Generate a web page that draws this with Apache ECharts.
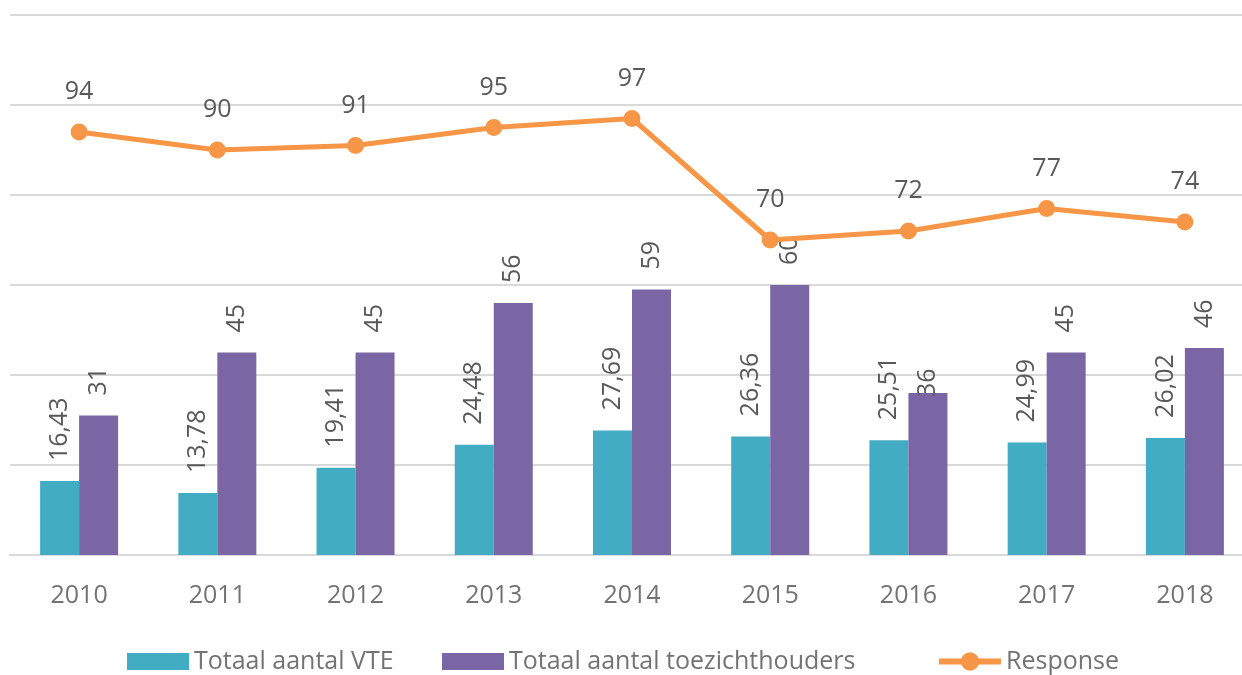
<!DOCTYPE html>
<html>
	<head>
		<meta charset="utf-8" />
		<title></title>
		<script src="https://cdn.jsdelivr.net/npm/echarts@6/dist/echarts.min.js"></script>
		<style>
			html, body { margin: 0; padding: 0; background: #fff; }
			#main { width: 1242px; height: 675px; }
		</style>
	</head>
	<body>
	<div id="main"></div>

<script type="text/javascript">
/* data */
var years = ['2010', '2011', '2012', '2013', '2014', '2015', '2016', '2017', '2018'];
var vte = [16.43, 13.78, 19.41, 24.48, 27.69, 26.36, 25.51, 24.99, 26.02];
var toezicht = [31, 45, 45, 56, 59, 60, 36, 45, 46];
var response = [94, 90, 91, 95, 97, 70, 72, 77, 74];
var seriesNames = ['Totaal aantal VTE', 'Totaal aantal toezichthouders', 'Response'];

var fontName = 'Open Sans';

/* comma as decimal sign */
function nl(p){
	return String(p.value).replace('.', ',');
}

var barLabel = {
	show: true,
	position: 'top',
	rotate: 90,
	align: 'left',
	verticalAlign: 'middle',
	distance: 20,
	fontFamily: fontName,
	fontSize: 25,
	color: '#595959',
	formatter: nl
};

/* label of 2016 sits a bit lower in the original */
var toezichtData = toezicht.map(function(v, i){
	if (years[i] === '2016') {
		return { value: v, label: { distance: -4 } };
	}
	return v;
});

/* one legend per item, so the spacing follows the original */
function legendItem(item, left, h){
	return {
		top: 649,
		left: left,
		padding: 0,
		itemWidth: 62,
		itemHeight: h,
		textStyle: { fontFamily: fontName, fontSize: 25, color: '#737373' },
		data: [item]
	};
}

var chart = echarts.init(document.getElementById('main'));
var option = {
	animation: false,
	textStyle: { fontFamily: fontName },
	grid: {
		left: 10,
		right: -12,
		top: 15,
		height: 540,
		containLabel: false,
		outerBoundsMode: 'none'
	},
	legend: [
		legendItem({ name: seriesNames[0], icon: 'rect' }, 127, 17),
		legendItem({ name: seriesNames[1], icon: 'rect' }, 442, 17),
		legendItem({ name: seriesNames[2], lineStyle: { width: 6 } }, 936, 23) /* bigger marker */
	],
	xAxis: {
		type: 'category',
		data: years,
		axisTick: { show: false },
		axisLine: { show: true, lineStyle: { color: '#d9d9d9', width: 2 } },
		axisLabel: { margin: 28, fontFamily: fontName, fontSize: 25, color: '#737373' }
	},
	yAxis: {
		type: 'value',
		min: 0,
		max: 120,
		interval: 20,
		axisLabel: { show: false },
		axisLine: { show: false },
		axisTick: { show: false },
		splitLine: { lineStyle: { color: '#d9d9d9', width: 2 } }
	},
	series: [
		{
			name: seriesNames[0],
			type: 'bar',
			barWidth: 39,
			barGap: '0%',
			itemStyle: { color: '#42acc2' },
			label: barLabel,
			data: vte
		},
		{
			name: seriesNames[1],
			type: 'bar',
			barWidth: 39,
			barGap: '0%',
			itemStyle: { color: '#7b66a5' },
			label: barLabel,
			data: toezichtData
		},
		{
			name: seriesNames[2],
			type: 'line',
			symbol: 'circle',
			symbolSize: 17,
			z: 5,
			lineStyle: { color: '#f79646', width: 5 },
			itemStyle: { color: '#f79646' },
			label: {
				show: true,
				position: 'top',
				distance: 19,
				fontFamily: fontName,
				fontSize: 25,
				color: '#595959'
			},
			data: response
		}
	]
};
chart.setOption(option);
window.onresize = chart.resize;
</script>

	</body>
</html>
